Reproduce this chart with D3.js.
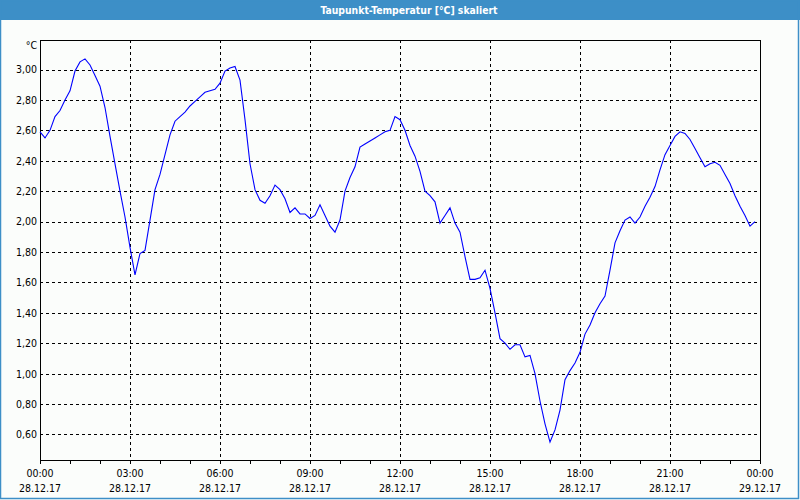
<!DOCTYPE html>
<html>
<head>
<meta charset="utf-8">
<script src="https://cdn.jsdelivr.net/npm/d3@7"></script>
<style>
  html, body { margin: 0; padding: 0; background: #fbfdfb; }
  svg { display: block; }
  text { font-family: "DejaVu Sans Condensed", "Liberation Sans", Arial, sans-serif; }
</style>
</head>
<body>
<svg id="chart" width="800" height="500"></svg>
<script>
const title = "Taupunkt-Temperatur [°C] skaliert";
const unitLabel = "°C";
const day = "2017-12-28";

const times = [
"00:00","00:10","00:20","00:30","00:40","00:50","01:00","01:10","01:20","01:30","01:40","01:50",
"02:00","02:10","02:20","02:30","02:40","02:50","03:00","03:10","03:20","03:30","03:40","03:50",
"04:00","04:10","04:20","04:30","04:40","04:50","05:00","05:10","05:20","05:30","05:40","05:50",
"06:00","06:10","06:20","06:30","06:40","06:50","07:00","07:10","07:20","07:30","07:40","07:50",
"08:00","08:10","08:20","08:30","08:40","08:50","09:00","09:10","09:20","09:30","09:40","09:50",
"10:00","10:10","10:20","10:30","10:40","10:50","11:00","11:10","11:20","11:30","11:40","11:50",
"12:00","12:10","12:20","12:30","12:40","12:50","13:00","13:10","13:20","13:30","13:40","13:50",
"14:00","14:10","14:20","14:30","14:40","14:50","15:00","15:10","15:20","15:30","15:40","15:50",
"16:00","16:10","16:20","16:30","16:40","16:50","17:00","17:10","17:20","17:30","17:40","17:50",
"18:00","18:10","18:20","18:30","18:40","18:50","19:00","19:10","19:20","19:30","19:40","19:50",
"20:00","20:10","20:20","20:30","20:40","20:50","21:00","21:10","21:20","21:30","21:40","21:50",
"22:00","22:10","22:20","22:30","22:40","22:50","23:00","23:10","23:20","23:30","23:40","23:50"
];

const values = [
2.59,2.55,2.60,2.69,2.73,2.80,2.86,2.99,3.05,3.07,3.03,2.96,
2.89,2.75,2.56,2.38,2.20,2.03,1.83,1.65,1.79,1.81,2.01,2.21,
2.31,2.44,2.57,2.66,2.69,2.72,2.76,2.79,2.82,2.85,2.86,2.87,
2.91,2.99,3.01,3.02,2.93,2.67,2.38,2.21,2.14,2.12,2.17,2.24,
2.21,2.15,2.06,2.09,2.05,2.05,2.02,2.04,2.11,2.04,1.97,1.93,
2.01,2.20,2.29,2.36,2.49,2.51,2.53,2.55,2.57,2.59,2.60,2.69,
2.67,2.60,2.50,2.43,2.33,2.20,2.17,2.13,1.99,2.04,2.09,1.99,
1.93,1.77,1.62,1.62,1.63,1.68,1.56,1.40,1.23,1.20,1.16,1.19,
1.19,1.11,1.12,1.00,0.82,0.67,0.55,0.63,0.76,0.96,1.02,1.07,
1.14,1.26,1.32,1.40,1.46,1.51,1.68,1.86,1.94,2.01,2.03,1.99,
2.03,2.10,2.16,2.23,2.34,2.44,2.50,2.56,2.59,2.58,2.54,2.48,
2.42,2.36,2.38,2.39,2.37,2.31,2.25,2.17,2.10,2.04,1.97,2.00
];

const yTicks = [0.6,0.8,1.0,1.2,1.4,1.6,1.8,2.0,2.2,2.4,2.6,2.8,3.0];
const yDomain = [0.432, 3.194];
const xStart = "2017-12-28 00:00";
const xEnd = "2017-12-29 00:00";
const xLabelTimes = ["2017-12-28 00:00","2017-12-28 03:00","2017-12-28 06:00","2017-12-28 09:00",
  "2017-12-28 12:00","2017-12-28 15:00","2017-12-28 18:00","2017-12-28 21:00","2017-12-29 00:00"];

const parse = d3.timeParse("%Y-%m-%d %H:%M");
const data = times.map((t, i) => ({ t: parse(day + " " + t), v: values[i] }));

const svg = d3.select("#chart");
const W = 800, H = 500;
const L = 40, R = 760, T = 40, B = 460;

const x = d3.scaleTime().domain([parse(xStart), parse(xEnd)]).range([L, R]);
const y = d3.scaleLinear().domain(yDomain).range([B, T]);
const snap = v => Math.round(v) + 0.5;

// background
svg.append("rect").attr("width", W).attr("height", H).attr("fill", "#fbfdfb");

// title bar
svg.append("rect").attr("x", 0).attr("y", 0).attr("width", W).attr("height", 20).attr("fill", "#3d8fc7");
svg.append("text").attr("x", 409).attr("y", 14).attr("text-anchor", "middle")
  .attr("fill", "#ffffff").attr("font-size", "11px").attr("font-weight", "bold")
  .attr("textLength", 177).attr("lengthAdjust", "spacingAndGlyphs")
  .text(title);

// outer frame
svg.append("rect").attr("x", 0.5).attr("y", 0.5).attr("width", W - 2).attr("height", H - 2)
  .attr("fill", "none").attr("stroke", "#3d8fc7").attr("stroke-width", 1.5);

// grid
const grid = svg.append("g").attr("shape-rendering", "crispEdges")
  .attr("stroke", "#000").attr("stroke-dasharray", "3,3").attr("stroke-width", 1);
grid.selectAll("line.h").data(yTicks).join("line").attr("class", "h")
  .attr("x1", L).attr("x2", R).attr("y1", d => snap(y(d))).attr("y2", d => snap(y(d)));
grid.selectAll("line.v").data(xLabelTimes.slice(1, -1).map(parse)).join("line").attr("class", "v")
  .attr("y1", T).attr("y2", B).attr("x1", d => snap(x(d))).attr("x2", d => snap(x(d)));

// x axis ticks (hourly)
const xAxis = d3.axisBottom(x).ticks(d3.timeHour.every(1)).tickSize(4).tickFormat(() => "");
const gx = svg.append("g").attr("transform", `translate(0,${B})`).attr("shape-rendering", "crispEdges").call(xAxis);
gx.select(".domain").remove();
gx.selectAll(".tick line").attr("stroke", "#000");

// x labels
const fTime = d3.timeFormat("%H:%M"), fDate = d3.timeFormat("%d.%m.%y");
const xl = svg.append("g").attr("font-size", "10.5px").attr("fill", "#000").attr("text-anchor", "middle");
xLabelTimes.map(parse).forEach(d => {
  xl.append("text").attr("x", x(d)).attr("y", 477).text(fTime(d));
  xl.append("text").attr("x", x(d)).attr("y", 492).text(fDate(d));
});

// y labels
const yAxis = d3.axisLeft(y).tickValues(yTicks).tickSize(0).tickPadding(3)
  .tickFormat(d => d.toFixed(2).replace(".", ","));
const gy = svg.append("g").attr("transform", `translate(${L},0)`).call(yAxis);
gy.select(".domain").remove();
gy.selectAll("text").attr("font-size", "10.5px").attr("fill", "#000")
  .attr("font-family", "'DejaVu Sans Condensed', 'Liberation Sans', Arial, sans-serif");

svg.append("text").attr("x", 37).attr("y", 49).attr("text-anchor", "end")
  .attr("font-size", "10.5px").attr("fill", "#000").text(unitLabel);

// plot frame
svg.append("rect").attr("x", L + 0.5).attr("y", T + 0.5).attr("width", R - L).attr("height", B - T)
  .attr("fill", "none").attr("stroke", "#000").attr("stroke-width", 1).attr("shape-rendering", "crispEdges");

// line
const line = d3.line().x(d => x(d.t)).y(d => y(d.v));
svg.append("path").datum(data).attr("d", line)
  .attr("fill", "none").attr("stroke", "#0000ff").attr("stroke-width", 1.1);
</script>
</body>
</html>
